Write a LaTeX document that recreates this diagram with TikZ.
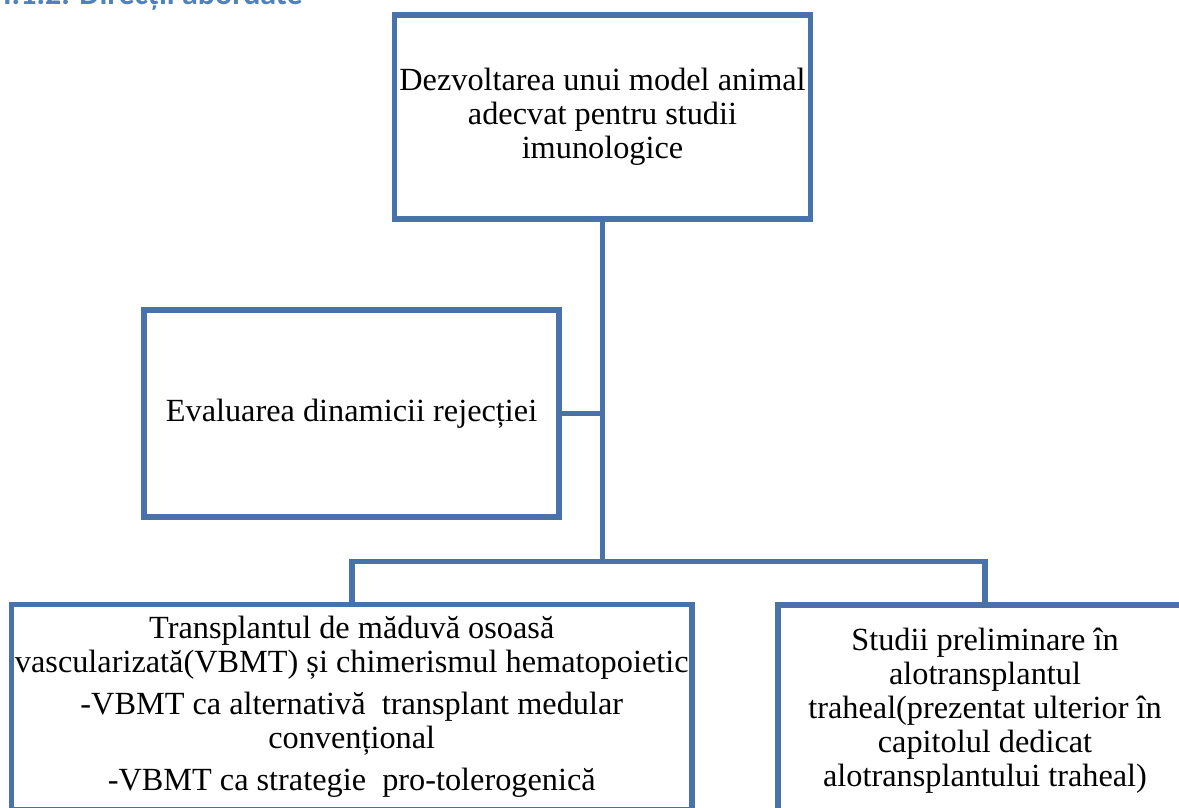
\documentclass[tikz,border=0pt]{standalone}
\usepackage{fontspec}
\setmainfont{Liberation Serif}
\newfontfamily\headfont{Carlito}
\definecolor{boxblue}{HTML}{4A72AA}
\definecolor{headblue}{HTML}{4F81BD}
\tikzset{
  box/.style={draw=boxblue, line width=5.5pt, fill=none, inner sep=0pt},
  txt/.style={align=center, font=\fontsize{32.3}{34}\selectfont, inner sep=0pt},
  link/.style={draw=boxblue, line width=5.5pt}
}
\begin{document}
\begin{tikzpicture}[x=1pt,y=-1pt]
\useasboundingbox (0,0) rectangle (1179,807);
\node[anchor=base west, inner sep=0pt, text=headblue, font=\headfont\bfseries\fontsize{32}{36}\selectfont] (head) at (3,4) {I.1.2. Direcții abordate};
% boxes
\node[box, minimum width=416pt, minimum height=204pt] (top) at (602.5,117) {};
\node[txt] (toptxt) at (602.5,117) {Dezvoltarea unui model animal\\adecvat pentru studii\\imunologice};
\node[box, minimum width=415pt, minimum height=207pt] (mid) at (351.5,413.5) {};
\node[txt] (midtxt) at (351.5,413.5) {Evaluarea dinamicii rejecției};
\node[box, minimum width=680.5pt, minimum height=205.5pt] (bl) at (351.75,707.25) {};
\node[txt] (bltxt) at (351.75,707) {Transplantul de măduvă osoasă\\vascularizată(VBMT) și chimerismul hematopoietic\\[8pt]-VBMT ca alternativă\ \ transplant medular\\convențional\\[8pt]-VBMT ca strategie\ \ pro-tolerogenică};
\node[box, minimum width=414pt, minimum height=210pt] (br) at (985,710) {};
\node[txt] (brtxt) at (985,711) {Studii preliminare în\\alotransplantul\\traheal(prezentat ulterior în\\capitolul dedicat\\alotransplantului traheal)};
% connectors
\coordinate (j) at (602.5,561.5);
\coordinate (jl) at (bl.north |- j);
\coordinate (jr) at (br.north |- j);
\draw[link] (top.south) -- (j);
\draw[link] (mid.east) -- (mid.east -| j);
\draw[link] (bl.north) -- (jl) -- (jr) -- (br.north);
\end{tikzpicture}
\end{document}
